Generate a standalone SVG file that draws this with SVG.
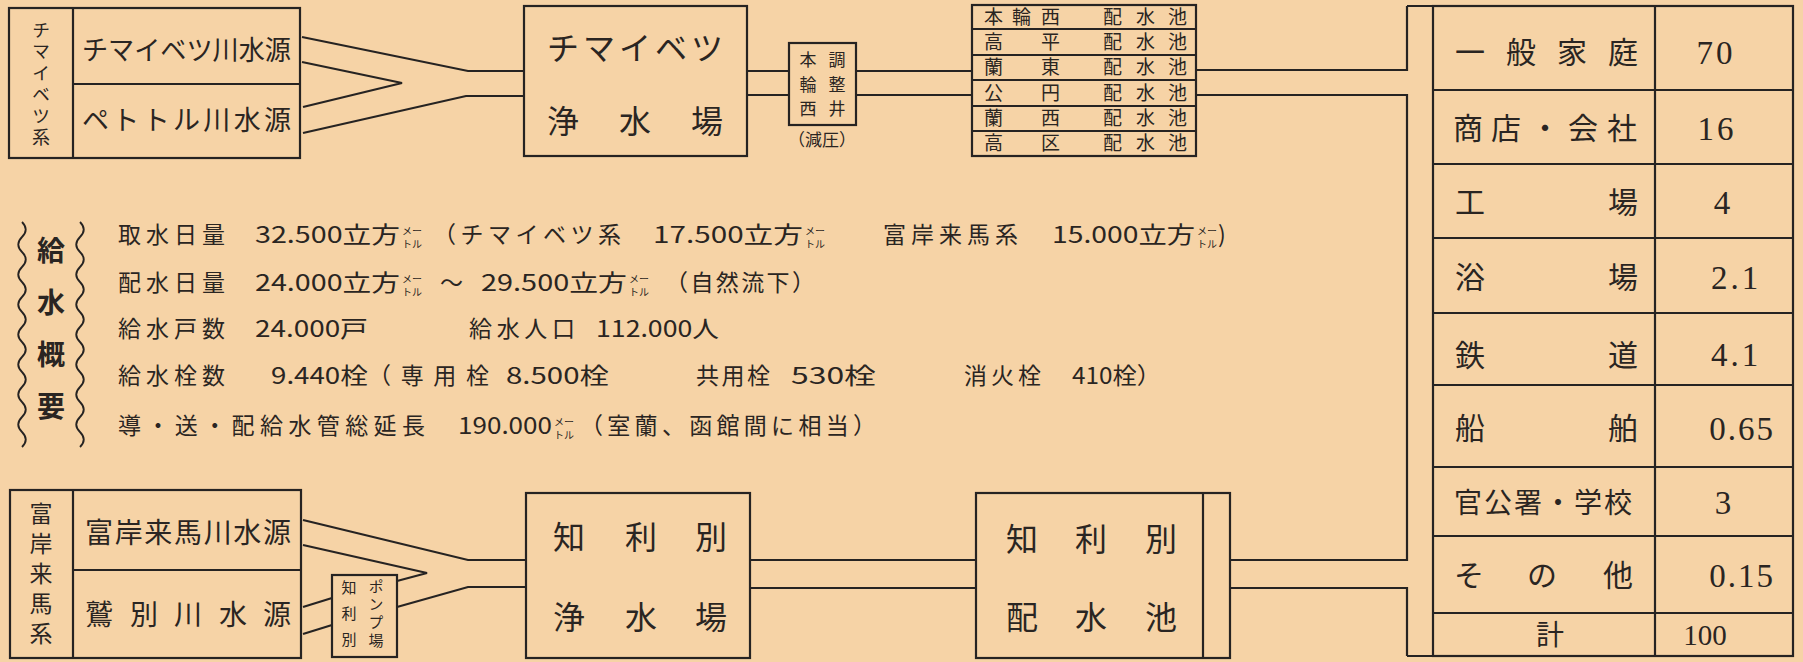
<svg xmlns="http://www.w3.org/2000/svg" width="1803" height="662" viewBox="0 0 1803 662">
<style>
.ln{fill:none;stroke:#262322;stroke-width:2.2}
.bx{fill:none;stroke:#262322;stroke-width:2.2}
text{font-family:"Noto Sans CJK JP","Noto Sans",sans-serif;fill:#2a2522}
.v{writing-mode:vertical-rl}
.t23{font-size:23px}
.t19{font-size:19px}
.t18{font-size:18px}
.t17{font-size:17px}
.t15{font-size:15px}
.t27{font-size:27px}
.t28{font-size:28px}
.t30{font-size:30px}
.t32{font-size:32px}
.sm{font-size:10px}
.num{font-family:"Liberation Serif",serif;font-size:33px}
.mid{text-anchor:middle}
.b{font-weight:bold}
</style>
<rect x="0" y="0" width="1803" height="662" fill="#F6D3A6"/>

<g id="connectors">
  <polyline class="ln" points="302,37 468,71 524,71"/>
  <polyline class="ln" points="302,62 402,83 303,107"/>
  <polyline class="ln" points="303,133 466,96 524,96"/>
  <line class="ln" x1="747" y1="71" x2="789" y2="71"/>
  <line class="ln" x1="747" y1="95" x2="789" y2="95"/>
  <line class="ln" x1="856" y1="71" x2="972" y2="71"/>
  <line class="ln" x1="856" y1="95" x2="972" y2="95"/>
  <polyline class="ln" points="1196,70 1407,70 1407,6"/>
  <polyline class="ln" points="1196,95 1407,95 1407,560 1230,560"/>
  <polyline class="ln" points="1230,588 1407,588 1407,656"/>
  <polyline class="ln" points="303,520 468,560 526,560"/>
  <polyline class="ln" points="303,545 427,573 397,581"/>
  <line class="ln" x1="303" y1="607" x2="332" y2="598"/>
  <line class="ln" x1="303" y1="634" x2="332" y2="625"/>
  <polyline class="ln" points="397,607 468,587 526,587"/>
  <line class="ln" x1="750" y1="560" x2="976" y2="560"/>
  <line class="ln" x1="750" y1="588" x2="976" y2="588"/>
</g>

<g id="chimaibetsu-sources">
  <rect class="bx" x="9" y="8" width="291" height="150"/>
  <line class="ln" x1="73" y1="8" x2="73" y2="158"/>
  <line class="ln" x1="73" y1="84" x2="300" y2="84"/>
  <text class="t18 v" x="41" y="21" letter-spacing="3.5">チマイベツ系</text>
  <text class="t27" x="82" y="60" textLength="209" lengthAdjust="spacingAndGlyphs">チマイベツ川水源</text>
  <text class="t27" x="82" y="130" textLength="209" lengthAdjust="spacing">ペトトル川水源</text>
</g>

<g id="chimaibetsu-plant">
  <rect class="bx" x="524" y="6" width="223" height="150"/>
  <text class="t32" x="547 583 619 655 691" y="60">チマイベツ</text>
  <text class="t32" x="547 619 691" y="133">浄水場</text>
</g>

<g id="honwanishi-well">
  <rect class="bx" x="789" y="43" width="67" height="82"/>
  <text class="t17 mid" x="808 837" y="66">本調</text>
  <text class="t17 mid" x="808 837" y="91">輪整</text>
  <text class="t17 mid" x="808 837" y="115">西井</text>
  <text class="t17 mid" x="822" y="146">（減圧）</text>
</g>

<g id="reservoirs">
  <rect class="bx" x="972" y="5" width="224" height="151"/>
  <line class="ln" x1="972" y1="29" x2="1196" y2="29"/>
  <line class="ln" x1="972" y1="55" x2="1196" y2="55"/>
  <line class="ln" x1="972" y1="80" x2="1196" y2="80"/>
  <line class="ln" x1="972" y1="106" x2="1196" y2="106"/>
  <line class="ln" x1="972" y1="131" x2="1196" y2="131"/>
  <text class="t19" x="984 1012 1041" y="24">本輪西</text>
  <text class="t19" x="984 1041" y="49">高平</text>
  <text class="t19" x="984 1041" y="74">蘭東</text>
  <text class="t19" x="984 1041" y="100">公円</text>
  <text class="t19" x="984 1041" y="125">蘭西</text>
  <text class="t19" x="984 1041" y="150">高区</text>
  <text class="t19" x="1103 1136 1168" y="24">配水池</text>
  <text class="t19" x="1103 1136 1168" y="49">配水池</text>
  <text class="t19" x="1103 1136 1168" y="74">配水池</text>
  <text class="t19" x="1103 1136 1168" y="100">配水池</text>
  <text class="t19" x="1103 1136 1168" y="125">配水池</text>
  <text class="t19" x="1103 1136 1168" y="150">配水池</text>
</g>

<g id="summary">
  <path class="ln" d="M22,222 c5,5 5,10 0,15 c-5,5 -5,10 0,15 c5,5 5,10 0,15 c-5,5 -5,10 0,15 c5,5 5,10 0,15 c-5,5 -5,10 0,15 c5,5 5,10 0,15 c-5,5 -5,10 0,15 c5,5 5,10 0,15 c-5,5 -5,10 0,15 c5,5 5,10 0,15 c-5,5 -5,10 0,15 c5,5 5,10 0,15 c-5,5 -5,10 0,15 c5,5 5,10 0,15" style="stroke-width:1.8"/>
  <path class="ln" d="M80,222 c5,5 5,10 0,15 c-5,5 -5,10 0,15 c5,5 5,10 0,15 c-5,5 -5,10 0,15 c5,5 5,10 0,15 c-5,5 -5,10 0,15 c5,5 5,10 0,15 c-5,5 -5,10 0,15 c5,5 5,10 0,15 c-5,5 -5,10 0,15 c5,5 5,10 0,15 c-5,5 -5,10 0,15 c5,5 5,10 0,15 c-5,5 -5,10 0,15 c5,5 5,10 0,15" style="stroke-width:1.8"/>
  <text class="t28 b v" x="51" y="236" letter-spacing="24">給水概要</text>

  <text class="t23" x="118" y="243" textLength="107" lengthAdjust="spacing">取水日量</text>
  <text class="t23" x="255" y="243" textLength="145" lengthAdjust="spacingAndGlyphs">32.500立方</text>
  <text class="sm" x="402" y="235">メー</text><text class="sm" x="402" y="248">トル</text>
  <text class="t23" x="433" y="243" textLength="188" lengthAdjust="spacing">（チマイベツ系</text>
  <text class="t23" x="653" y="243" textLength="150" lengthAdjust="spacingAndGlyphs">17.500立方</text>
  <text class="sm" x="805" y="235">メー</text><text class="sm" x="805" y="248">トル</text>
  <text class="t23" x="883" y="243" textLength="135" lengthAdjust="spacing">富岸来馬系</text>
  <text class="t23" x="1052" y="243" textLength="143" lengthAdjust="spacingAndGlyphs">15.000立方</text>
  <text class="sm" x="1197" y="235">メー</text><text class="sm" x="1197" y="248">トル</text>
  <text class="t23" x="1218" y="243">)</text>

  <text class="t23" x="118" y="291" textLength="107" lengthAdjust="spacing">配水日量</text>
  <text class="t23" x="255" y="291" textLength="145" lengthAdjust="spacingAndGlyphs">24.000立方</text>
  <text class="sm" x="402" y="283">メー</text><text class="sm" x="402" y="296">トル</text>
  <text class="t23" x="440" y="291">～</text>
  <text class="t23" x="481" y="291" textLength="146" lengthAdjust="spacingAndGlyphs">29.500立方</text>
  <text class="sm" x="629" y="283">メー</text><text class="sm" x="629" y="296">トル</text>
  <text class="t23" x="665" y="291" textLength="150" lengthAdjust="spacing">（自然流下）</text>

  <text class="t23" x="118" y="337" textLength="107" lengthAdjust="spacing">給水戸数</text>
  <text class="t23" x="255" y="337" textLength="113" lengthAdjust="spacingAndGlyphs">24.000戸</text>
  <text class="t23" x="469" y="337" textLength="106" lengthAdjust="spacing">給水人口</text>
  <text class="t23" x="596" y="337" textLength="123" lengthAdjust="spacingAndGlyphs">112.000人</text>

  <text class="t23" x="118" y="384" textLength="107" lengthAdjust="spacing">給水栓数</text>
  <text class="t23" x="271" y="384" textLength="97" lengthAdjust="spacingAndGlyphs">9.440栓</text>
  <text class="t23" x="368" y="384" textLength="121" lengthAdjust="spacing">（専用栓</text>
  <text class="t23" x="506" y="384" textLength="103" lengthAdjust="spacingAndGlyphs">8.500栓</text>
  <text class="t23" x="696" y="384" textLength="74" lengthAdjust="spacing">共用栓</text>
  <text class="t23" x="791" y="384" textLength="85" lengthAdjust="spacingAndGlyphs">530栓</text>
  <text class="t23" x="964" y="384" textLength="77" lengthAdjust="spacing">消火栓</text>
  <text class="t23" x="1072" y="384" textLength="89" lengthAdjust="spacingAndGlyphs">410栓）</text>

  <text class="t23" x="118" y="434" textLength="307" lengthAdjust="spacing">導・送・配給水管総延長</text>
  <text class="t23" x="458" y="434" textLength="94" lengthAdjust="spacingAndGlyphs">190.000</text>
  <text class="sm" x="554" y="426">メー</text><text class="sm" x="554" y="439">トル</text>
  <text class="t23" x="580" y="434" textLength="296" lengthAdjust="spacing">（室蘭、函館間に相当）</text>
</g>

<g id="tomikishi-sources">
  <rect class="bx" x="10" y="490" width="291" height="168"/>
  <line class="ln" x1="73" y1="490" x2="73" y2="658"/>
  <line class="ln" x1="73" y1="570" x2="301" y2="570"/>
  <text class="t23 v" x="41" y="502" letter-spacing="7">富岸来馬系</text>
  <text class="t28" x="85" y="543" textLength="206" lengthAdjust="spacing">富岸来馬川水源</text>
  <text class="t28" x="85 130 174 219 263" y="625">鷲別川水源</text>
</g>

<g id="chiribetsu-pump">
  <rect class="bx" x="332" y="575" width="65" height="82"/>
  <text class="t15 v" x="349" y="580" letter-spacing="11">知利別</text>
  <text class="t15 v" x="376" y="579" letter-spacing="3">ポンプ場</text>
</g>

<g id="chiribetsu-plant">
  <rect class="bx" x="526" y="493" width="224" height="165"/>
  <text class="t32" x="553 625 695" y="549">知利別</text>
  <text class="t32" x="553 625 695" y="629">浄水場</text>
</g>

<g id="chiribetsu-reservoir">
  <rect class="bx" x="976" y="493" width="254" height="165"/>
  <line class="ln" x1="1203" y1="493" x2="1203" y2="658"/>
  <text class="t32" x="1006 1075 1145" y="551">知利別</text>
  <text class="t32" x="1006 1075 1145" y="629">配水池</text>
</g>

<g id="usage-table">
  <line class="ln" x1="1407" y1="6" x2="1793" y2="6"/>
  <line class="ln" x1="1407" y1="656" x2="1793" y2="656"/>
  <rect class="bx" x="1433" y="6" width="360" height="650"/>
  <line class="ln" x1="1655" y1="6" x2="1655" y2="656"/>
  <line class="ln" x1="1433" y1="90" x2="1793" y2="90"/>
  <line class="ln" x1="1433" y1="164" x2="1793" y2="164"/>
  <line class="ln" x1="1433" y1="238" x2="1793" y2="238"/>
  <line class="ln" x1="1433" y1="313" x2="1793" y2="313"/>
  <line class="ln" x1="1433" y1="385" x2="1793" y2="385"/>
  <line class="ln" x1="1433" y1="467" x2="1793" y2="467"/>
  <line class="ln" x1="1433" y1="536" x2="1793" y2="536"/>
  <line class="ln" x1="1433" y1="613" x2="1793" y2="613"/>

  <text class="t30" x="1455 1506 1557 1608" y="63">一般家庭</text>
  <text class="t30" x="1453 1491 1530 1568 1607" y="139">商店・会社</text>
  <text class="t30" x="1455 1608" y="213">工場</text>
  <text class="t30" x="1455 1608" y="288">浴場</text>
  <text class="t30" x="1455 1608" y="366">鉄道</text>
  <text class="t30" x="1455 1608" y="439">船舶</text>
  <text class="t28" x="1454 1484 1514 1544 1574 1604" y="513">官公署・学校</text>
  <text class="t30" x="1454 1527 1603" y="586">その他</text>
  <text class="t28 mid" x="1550" y="645">計</text>

  <text class="num mid" x="1716" y="64" letter-spacing="3">70</text>
  <text class="num mid" x="1717" y="140" letter-spacing="3">16</text>
  <text class="num mid" x="1722" y="214">4</text>
  <text class="num mid" x="1736" y="289" letter-spacing="3">2.1</text>
  <text class="num mid" x="1736" y="366" letter-spacing="3">4.1</text>
  <text class="num mid" x="1742" y="440" letter-spacing="2">0.65</text>
  <text class="num mid" x="1723" y="514">3</text>
  <text class="num mid" x="1742" y="587" letter-spacing="2">0.15</text>
  <text class="num mid" x="1705" y="645" style="font-size:29px">100</text>
</g>
</svg>
